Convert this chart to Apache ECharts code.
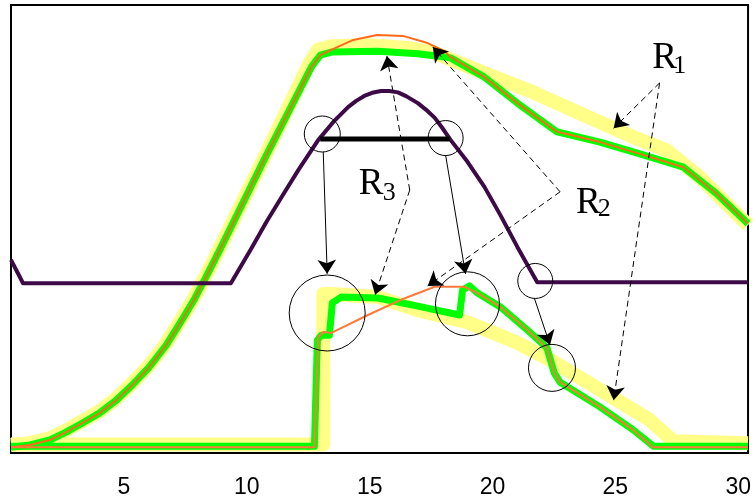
<!DOCTYPE html>
<html><head><meta charset="utf-8">
<script src="https://cdn.jsdelivr.net/npm/echarts@6/dist/echarts.min.js"></script>
<style>html,body{margin:0;padding:0;background:#fff}#c{width:754px;height:499px}</style>
</head><body><div id="c"></div>
<script>
// x-axis tick labels
const xTicks = [5, 10, 15, 20, 25, 30];

// Upper curve (R1 family)
const upperBand = [[0.4,1.8],[1.17,2.2],[1.98,3.3],[2.59,4.9],[3.31,7.1],[4.0,9.3],[4.69,12.2],[5.34,15.6],[6.03,19.6],[6.72,24.5],[7.36,30.1],[7.85,34.6],[8.34,39.7],[8.94,46.2],[10.76,66.5],[12.55,87.0],[12.9,90.0],[13.44,90.8],[14.93,91.0],[16.55,90.4],[17.65,89.3],[19.67,84.8],[21.7,80.4],[23.72,75.4],[25.74,70.5],[27.08,67.6],[28.42,61.6],[30.4,50.9]];
const upperMain = [[0.4,1.3],[1.17,1.8],[1.98,2.9],[2.59,4.5],[3.31,6.7],[4.0,8.9],[4.69,11.8],[5.34,15.2],[6.03,19.2],[6.72,24.1],[7.36,29.7],[7.85,34.2],[8.34,39.3],[8.94,45.8],[10.76,66.1],[12.63,86.2],[12.99,88.8],[13.44,89.5],[15.34,89.7],[16.96,89.1],[18.05,88.4],[18.29,88.2],[19.67,83.9],[21.01,78.1],[22.34,72.8],[22.63,71.7],[24.37,69.4],[25.86,67.0],[27.77,63.8],[29.1,58.0],[30.4,51.2]];
const upperThin = [[0.4,1.3],[1.17,1.8],[1.98,2.9],[2.59,4.5],[3.31,6.7],[4.0,8.9],[4.69,11.8],[5.34,15.2],[6.03,19.2],[6.72,24.1],[7.36,29.7],[7.85,34.2],[8.34,39.3],[8.94,45.8],[10.76,66.1],[12.63,86.2],[12.99,88.8],[13.44,90.0],[14.33,92.2],[15.3,93.3],[16.35,93.1],[17.36,91.5],[18.05,89.7],[18.29,88.4],[19.67,83.9],[21.01,78.1],[22.34,72.8],[22.63,71.7],[24.37,69.4],[25.86,67.0],[27.77,63.8],[29.1,58.0],[30.4,51.2]];

// Lower curve
const lowerBand = [[0.4,1.9],[13.11,1.9],[13.11,35.5],[13.44,35.5],[15.34,34.8],[16.96,31.9],[18.98,29.2],[21.01,24.6],[22.34,20.8],[24.37,14.1],[26.39,7.4],[27.36,2.6],[30.4,2.2]];
const lowerMain = [[0.4,1.5],[12.75,1.5],[12.87,25.2],[13.03,26.3],[13.36,26.3],[13.48,33.5],[13.84,34.8],[15.34,34.6],[16.96,32.8],[18.66,30.8],[18.78,36.4],[19.06,37.3],[19.39,35.7],[20.32,32.6],[21.41,27.5],[22.22,23.4],[22.51,17.9],[22.75,15.8],[24.37,10.3],[25.74,5.1],[26.55,1.5],[30.4,1.5]];
const lowerThin = [[0.4,1.3],[12.75,1.3],[12.91,25.9],[13.11,27.0],[13.44,26.8],[14.93,30.8],[16.27,34.2],[17.65,37.1],[18.86,37.1],[19.39,35.7],[20.32,32.6],[21.41,27.5],[22.22,23.4],[22.51,17.9],[22.75,15.8],[24.37,10.3],[25.74,5.1],[26.55,1.3],[30.4,1.3]];

// Purple curve
const purple = [[0.4,43.1],[0.89,37.9],[9.35,37.9],[10.2,45.8],[10.8,51.6],[11.41,57.1],[12.1,63.2],[12.91,69.9],[13.52,73.9],[14.12,77.2],[14.45,78.6],[14.78,79.7],[15.1,80.4],[15.46,80.8],[15.8,80.8],[16.15,80.5],[16.5,79.6],[16.96,78.1],[17.3,76.6],[17.65,74.8],[17.95,72.6],[18.29,69.9],[18.98,65.0],[19.67,59.4],[20.32,53.1],[21.01,46.0],[21.82,38.1],[30.4,38.1]];

// Black horizontal bar
const bar = [[12.99,70.1],[18.25,70.1]];

// Annotation circles [x, y, diameter]
const circles = [[13.07,71.2,36],[18.09,70.3,35],[21.74,38.4,35],[13.27,31.25,76],[18.98,33.3,64],[22.42,19.0,47]];
// Solid arrows
const solidArrows = [[[13.11,67.2],[13.27,40.0]],[[18.09,66.5],[18.9,40.0]],[[21.7,34.6],[22.34,24.1]]];
// Dashed arrows
const dashedArrows = [
  [[16.63,58.7],[15.7,88.6]],[[16.63,58.7],[15.22,35.3]],
  [[22.75,58.3],[17.57,90.6]],[[22.75,58.3],[17.36,37.3]],
  [[26.8,82.6],[24.93,72.5]],[[26.8,82.6],[24.93,11.8]]
];
// Labels
const bigLabels = [[15.06,60.0,'R'],[23.9,55.8,'R'],[27.0,88.2,'R']];
const subLabels = [[15.8,58.0,'3'],[24.55,54.5,'2'],[27.62,86.4,'1']];

const YELLOW = '#ffff88', GREEN = '#00ff00', ORANGE = '#ff6a1a', PURPLE = '#3d0a47';

function line(data, color, width, z) {
  return {type:'line', data, showSymbol:false, symbol:'none', z, silent:true,
    lineStyle:{color, width, cap:'butt', join:'round'}, emphasis:{disabled:true}};
}

const chart = echarts.init(document.getElementById('c'), null, {renderer:'canvas'});
chart.setOption({
  animation:false,
  backgroundColor:'#fff',
  grid:{left:11, right:2, top:5, bottom:46, show:true, borderColor:'#000', borderWidth:2, backgroundColor:'transparent'},
  xAxis:{type:'value', min:0.4, max:30.4,
    axisLine:{show:false}, axisTick:{show:false}, splitLine:{show:false},
    axisLabel:{customValues:xTicks, fontSize:23, color:'#000', fontFamily:'Liberation Sans', margin:23, hideOverlap:false, showMaxLabel:true}},
  yAxis:{type:'value', min:0, max:100, show:false, splitLine:{show:false}},
  series:[
    line(upperBand, YELLOW, 14, 1),
    line(lowerBand, YELLOW, 14, 1),
    line(upperMain, GREEN, 7, 2),
    line(lowerMain, GREEN, 7, 2),
    line(upperThin, ORANGE, 2, 3),
    line(lowerThin, '#ff7a3a', 2, 3),
    line(purple, PURPLE, 4, 4),
    line(bar, '#000', 5, 5),
    {type:'scatter', data:circles, symbol:'circle', symbolSize:(v)=>v[2], z:6, silent:true,
      itemStyle:{color:'transparent', borderColor:'#000', borderWidth:1, opacity:1}, emphasis:{disabled:true}},
    {type:'lines', coordinateSystem:'cartesian2d', z:6, silent:true,
      data:solidArrows.map(c=>({coords:c})), symbol:['none','arrow'], symbolSize:[0,14],
      lineStyle:{color:'#000', width:1, opacity:1, type:'solid', curveness:0}},
    {type:'lines', coordinateSystem:'cartesian2d', z:6, silent:true,
      data:dashedArrows.map(c=>({coords:c})), symbol:['none','arrow'], symbolSize:[0,14],
      lineStyle:{color:'#000', width:1, opacity:1, type:[6,4], curveness:0}},
    {type:'scatter', data:bigLabels, symbolSize:0, z:7, silent:true, itemStyle:{opacity:1},
      label:{show:true, position:'inside', formatter:(p)=>p.data[2], fontFamily:'Liberation Serif', fontSize:37, color:'#000', opacity:1}},
    {type:'scatter', data:subLabels, symbolSize:0, z:7, silent:true, itemStyle:{opacity:1},
      label:{show:true, position:'inside', formatter:(p)=>p.data[2], fontFamily:'Liberation Serif', fontSize:26, color:'#000', opacity:1}}
  ]
});
</script></body></html>
